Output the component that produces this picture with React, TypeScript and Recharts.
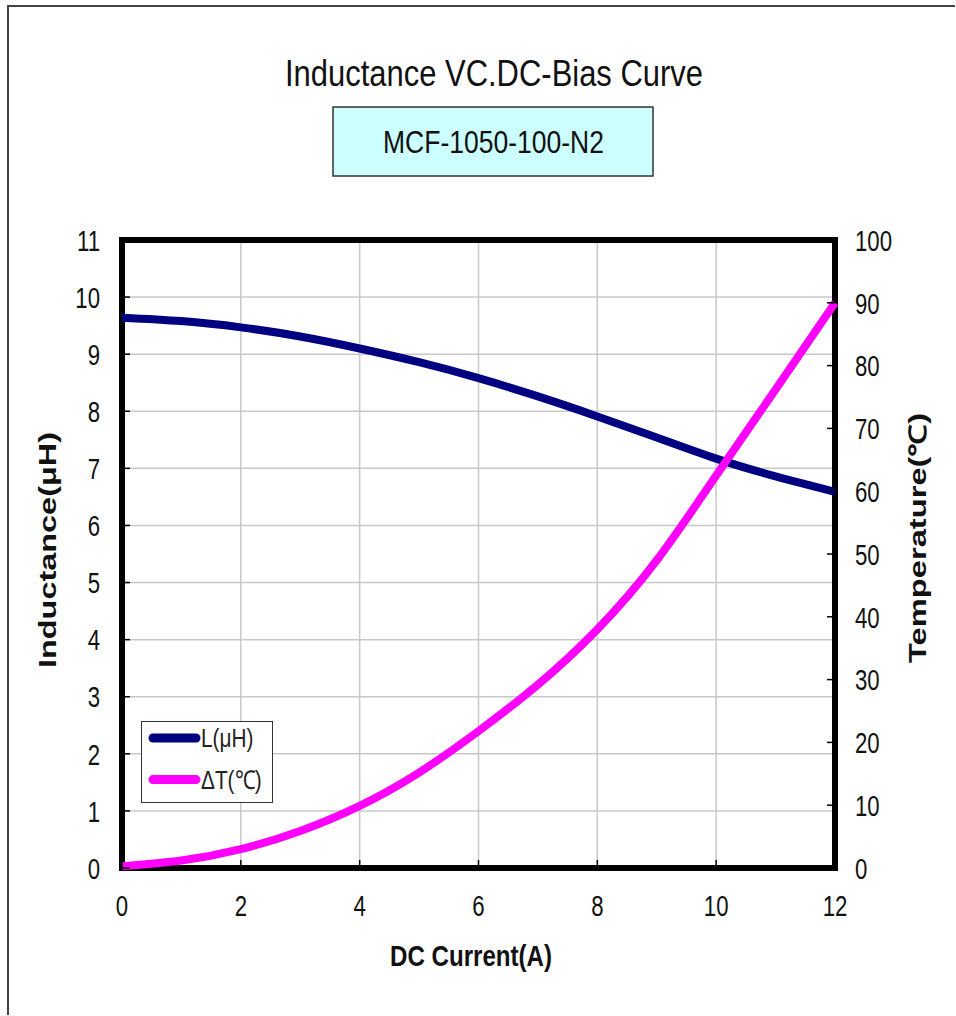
import { LineChart, Line, XAxis, YAxis, CartesianGrid, Legend, ReferenceArea } from 'recharts'

const current = [0, 1, 2, 3, 4, 5, 6, 7, 8, 9, 10, 11, 12]
const inductance = [9.64, 9.58, 9.47, 9.31, 9.1, 8.86, 8.58, 8.26, 7.91, 7.54, 7.17, 6.86, 6.59]
const deltaT = [0.3, 1.2, 3.0, 5.9, 9.9, 15.2, 21.8, 29.2, 38.0, 49.0, 62.5, 76.2, 90.0]

const currentTicks = [0, 2, 4, 6, 8, 10, 12]
const inductanceTicks = [0, 1, 2, 3, 4, 5, 6, 7, 8, 9, 10, 11]
const tempTicks = [0, 10, 20, 30, 40, 50, 60, 70, 80, 90, 100]

const data = current.map((c, i) => ({ current: c, L: inductance[i], T: deltaT[i] }))

const FONT = '"Liberation Sans", Arial, Helvetica, sans-serif'
const W = 956
const H = 1016
// plot box in page pixels
const PLOT = { left: 122, right: 835, top: 240, bottom: 868 }
const AXIS_W = 60
const AXIS_H = 40
const TICK_FS = 30
const SQUEEZE = 0.74

function NarrowText({ x, y, anchor, children }: any) {
  return (
    <text
      transform={`translate(${x},${y}) scale(${SQUEEZE},1)`}
      textAnchor={anchor}
      fontFamily={FONT}
      fontSize={TICK_FS}
      fill="#111"
    >
      {children}
    </text>
  )
}

function LeftTick({ x, y, payload }: any) {
  return (
    <g>
      <line x1={PLOT.left} x2={PLOT.left + 8} y1={y} y2={y} stroke="#000" strokeWidth={1.5} />
      <NarrowText x={x} y={y + 10.7} anchor="end">{payload.value}</NarrowText>
    </g>
  )
}

function RightTick({ x, y, payload }: any) {
  return (
    <g>
      <line x1={PLOT.right - 8} x2={PLOT.right} y1={y} y2={y} stroke="#000" strokeWidth={1.5} />
      <NarrowText x={x} y={y + 10.7} anchor="start">{payload.value}</NarrowText>
    </g>
  )
}

function BottomTick({ x, y, payload }: any) {
  return (
    <g>
      <line x1={x} x2={x} y1={PLOT.bottom - 8} y2={PLOT.bottom} stroke="#000" strokeWidth={1.5} />
      <NarrowText x={x} y={y + 21.5} anchor="middle">{payload.value}</NarrowText>
    </g>
  )
}

function renderLegend({ payload }: any) {
  return (
    <div style={{ width: 132, height: 82, boxSizing: 'border-box', border: '1.5px solid #333', background: '#fff' }}>
      <svg width={129} height={79} style={{ display: 'block' }}>
        {(payload || []).map((e: any, i: number) => (
          <g key={e.value}>
            <line x1={11} x2={54} y1={16 + i * 41.6} y2={16 + i * 41.6} stroke={e.color} strokeWidth={9} strokeLinecap="round" />
            <text
              transform={`translate(59,${25 + i * 41.6}) scale(0.8,1)`}
              fontFamily={FONT}
              fontSize={26}
              fill="#222"
            >
              {e.value}
            </text>
          </g>
        ))}
      </svg>
    </div>
  )
}

export default function App() {
  return (
    <div>
      <div
        style={{
          position: 'absolute',
          left: 7,
          top: 5,
          width: 948,
          height: 1010,
          boxSizing: 'border-box',
          borderTop: '2px solid #444',
          borderLeft: '2px solid #444',
        }}
      />
      <svg width={W} height={H} style={{ position: 'absolute', left: 0, top: 0 }}>
        <text x={494} y={86} textAnchor="middle" fontFamily={FONT} fontSize={36} textLength={418} lengthAdjust="spacingAndGlyphs" fill="#111">
          Inductance VC.DC-Bias Curve
        </text>
        <rect x={333} y={107} width={320} height={69} fill="#ccffff" stroke="#333" strokeWidth={1.5} />
        <text x={493.5} y={153} textAnchor="middle" fontFamily={FONT} fontSize={32} textLength={221} lengthAdjust="spacingAndGlyphs" fill="#111">
          MCF-1050-100-N2
        </text>
        <text
          transform="translate(56,550) rotate(-90)"
          textAnchor="middle"
          fontFamily={FONT}
          fontWeight="bold"
          fontSize={24}
          textLength={236}
          lengthAdjust="spacingAndGlyphs"
          fill="#111"
        >
          Inductance(μH)
        </text>
        <text
          transform="translate(926,538) rotate(-90)"
          textAnchor="middle"
          fontFamily={FONT}
          fontWeight="bold"
          fontSize={24}
          textLength={250}
          lengthAdjust="spacingAndGlyphs"
          fill="#111"
        >
          Temperature(℃)
        </text>
        <text x={471} y={966} textAnchor="middle" fontFamily={FONT} fontWeight="bold" fontSize={30} textLength={162} lengthAdjust="spacingAndGlyphs" fill="#111">
          DC Current(A)
        </text>
      </svg>
      <div style={{ position: 'absolute', left: 0, top: 0 }}>
        <LineChart
          width={W}
          height={H}
          data={data}
          margin={{
            top: PLOT.top,
            left: PLOT.left - AXIS_W,
            right: W - PLOT.right - AXIS_W,
            bottom: H - PLOT.bottom - AXIS_H,
          }}
        >
          <CartesianGrid yAxisId="left" stroke="#c8c8c8" strokeWidth={1.5} />
          <XAxis
            dataKey="current"
            type="number"
            domain={[0, 12]}
            ticks={currentTicks}
            interval={0}
            height={AXIS_H}
            axisLine={false}
            tickLine={false}
            tickMargin={20}
            tick={<BottomTick />}
          />
          <YAxis
            yAxisId="left"
            type="number"
            domain={[0, 11]}
            ticks={inductanceTicks}
            interval={0}
            width={AXIS_W}
            axisLine={false}
            tickLine={false}
            tickMargin={16}
            tick={<LeftTick />}
          />
          <YAxis
            yAxisId="right"
            orientation="right"
            type="number"
            domain={[0, 100]}
            ticks={tempTicks}
            interval={0}
            width={AXIS_W}
            axisLine={false}
            tickLine={false}
            tickMargin={14}
            tick={<RightTick />}
          />
          <ReferenceArea yAxisId="left" x1={0} x2={12} y1={0} y2={11} fill="none" stroke="#000" strokeWidth={6} ifOverflow="visible" />
          <Line
            yAxisId="left"
            type="natural"
            dataKey="L"
            name="L(μH)"
            stroke="#000080"
            strokeWidth={8}
            dot={false}
            activeDot={false}
            isAnimationActive={false}
          />
          <Line
            yAxisId="right"
            type="natural"
            dataKey="T"
            name="ΔT(℃)"
            stroke="#ff00ff"
            strokeWidth={8}
            dot={false}
            activeDot={false}
            isAnimationActive={false}
          />
          <Legend
            layout="vertical"
            align="center"
            verticalAlign="middle"
            content={renderLegend}
            wrapperStyle={{ left: 141, top: 721, width: 132, height: 82, margin: 0 }}
          />
        </LineChart>
      </div>
    </div>
  )
}
